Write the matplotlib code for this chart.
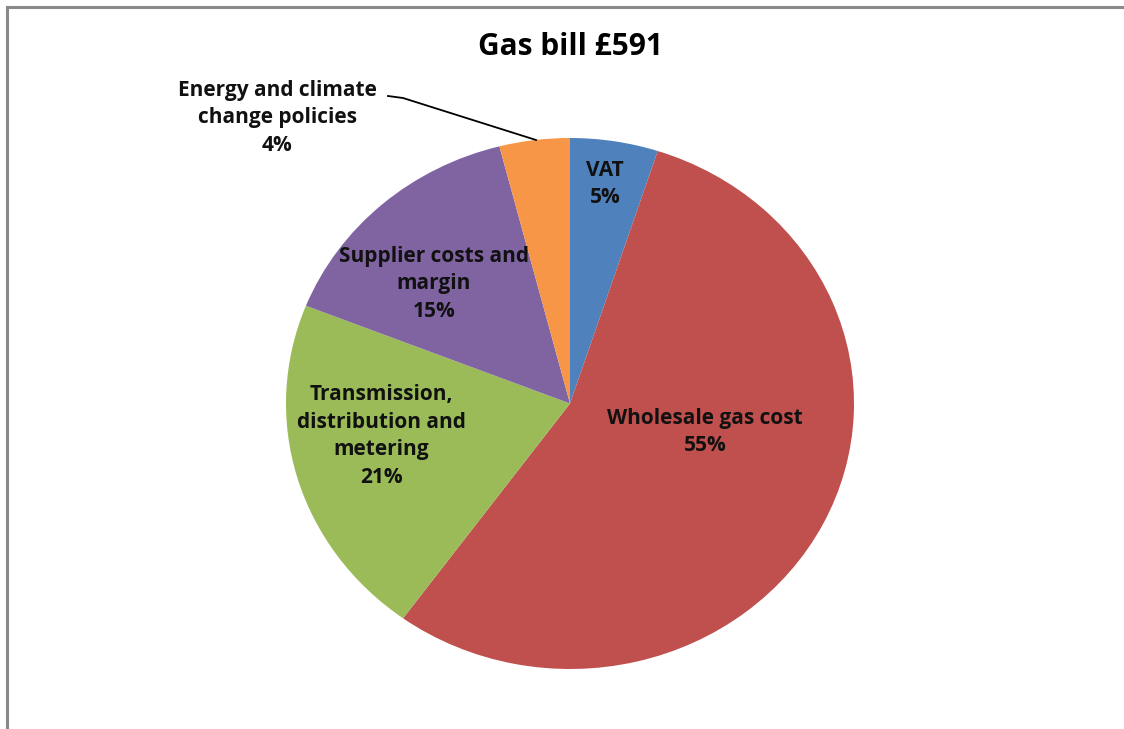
import matplotlib
matplotlib.use("Agg")
import matplotlib.pyplot as plt
from matplotlib.lines import Line2D

title = "Gas bill £591"
categories = ["VAT", "Wholesale gas cost", "Transmission,\ndistribution and\nmetering",
              "Supplier costs and\nmargin", "Energy and climate\nchange policies"]
values = [5, 55, 21, 15, 4]
colors = ["#4F81BD", "#C0504D", "#9BBB59", "#8064A2", "#F79646"]

W, H = 1124, 729
fig = plt.figure(figsize=(W / 100, H / 100), dpi=100)
fig.patch.set_facecolor("white")

FONT = ["Open Sans", "DejaVu Sans"]

# frame (top and left border like the source screenshot)
fig.add_artist(Line2D([7 / W, 1.05], [1 - 7 / H, 1 - 7 / H], transform=fig.transFigure,
                      color="#8a8a8a", lw=2.2))
fig.add_artist(Line2D([7 / W, 7 / W], [-0.05, 1 - 7 / H], transform=fig.transFigure,
                      color="#8a8a8a", lw=2.2))

# pie axes (slightly elliptical like the original)
left, top, pw, ph = 286, 138, 568, 531
ax = fig.add_axes([left / W, 1 - (top + ph) / H, pw / W, ph / H])
wedges, _ = ax.pie(values, colors=colors, startangle=90, counterclock=False,
                   radius=1.0, wedgeprops=dict(linewidth=0))
ax.set_xlim(-1, 1)
ax.set_ylim(-1, 1)
ax.set_aspect("auto")
ax.axis("off")

def px(x, y):
    return x / W, 1 - y / H

fig.text(*px(570, 47), title, ha="center", va="center", fontsize=21.5,
         fontweight="bold", family=FONT)

label_pos = [(605, 184), (705, 432), (381, 436), (434, 284), (277, 118)]
for cat, v, (x, y) in zip(categories, values, label_pos):
    fig.text(*px(x, y), f"{cat}\n{v}%", ha="center", va="center", fontsize=15,
             fontweight="bold", family=FONT, linespacing=1.42, color="#111111")

# leader line for the small slice
fig.add_artist(Line2D([388 / W, 403 / W, 536 / W], [1 - 96 / H, 1 - 98 / H, 1 - 140 / H],
                      transform=fig.transFigure, color="black", lw=1.3))

fig.savefig("out.png", dpi=100, facecolor="white")
